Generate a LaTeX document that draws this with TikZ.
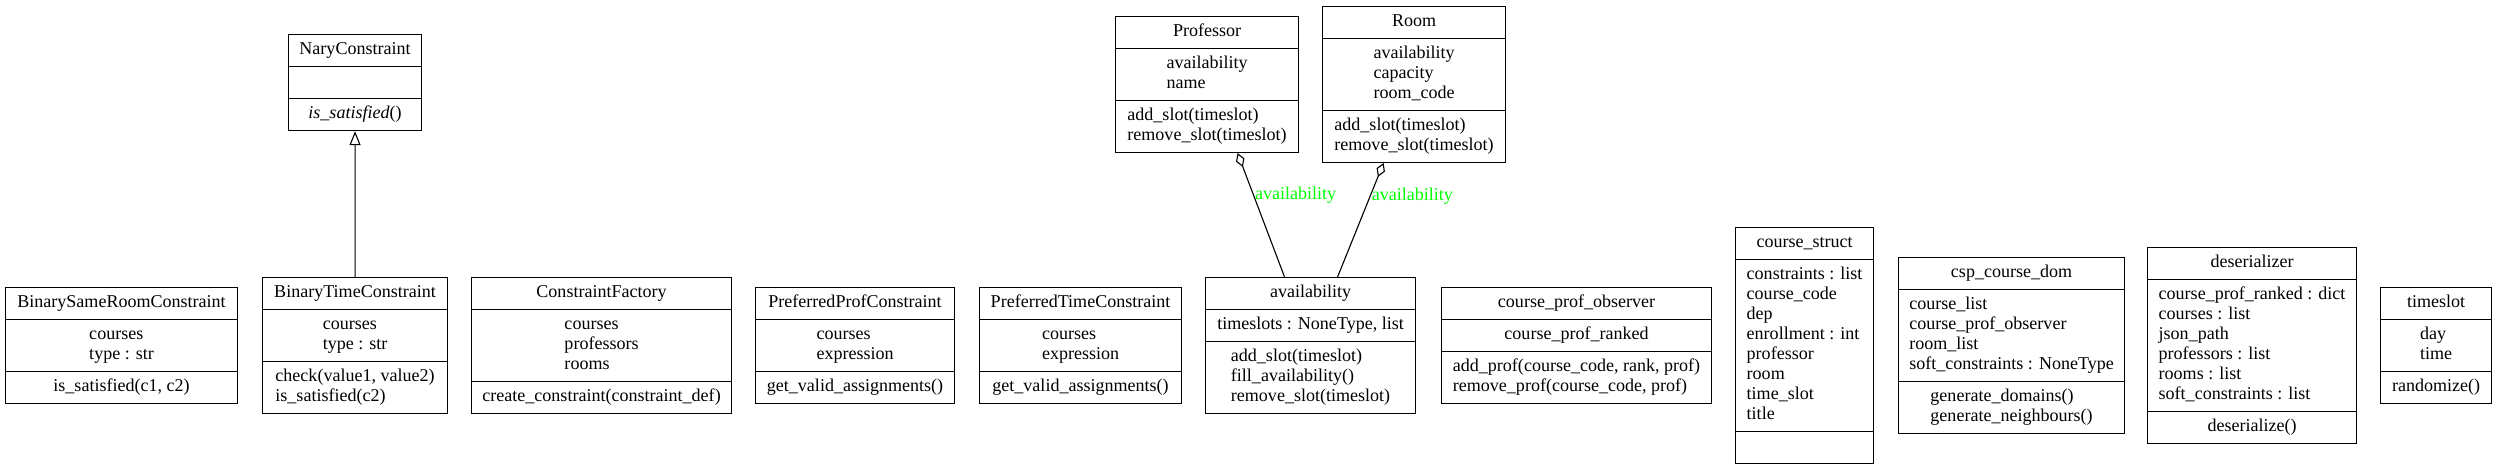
\documentclass[tikz,border=0pt]{standalone}
\usepackage{fontspec}
\setmainfont{Liberation Serif}
\usetikzlibrary{shapes.multipart,arrows.meta}
\definecolor{lblgreen}{RGB}{0,255,0}
\newcommand\umllines[1]{\begin{tabular}{@{}l@{}}\relax#1\end{tabular}}
\newcommand\umlcls[3]{\umllines{#1}\nodepart{second}\umllines{#2}\nodepart{third}\umllines{#3}}
\begin{document}
\begin{tikzpicture}[x=1bp, y=-1bp, font=\fontsize{18.1}{20}\selectfont,
umlclass/.style={draw, line width=1.1bp, rectangle split, rectangle split parts=3, inner xsep=0bp, inner ysep=5.5bp, anchor=north west},
inherit/.style={line width=1.1bp, -{Triangle[open, length=14bp, width=11bp]}},
aggr/.style={line width=1.1bp, -{Diamond[open, length=15bp, width=9bp]}},
rolelbl/.style={text=lblgreen, inner sep=1bp, anchor=west}]
\useasboundingbox (0,0) rectangle (2497,465);
\node[umlclass, minimum width=133bp] (nary) at (288,34) {\umlcls{NaryConstraint}{}{\textit{is\_satisfied}()}};
\node[umlclass, minimum width=232bp] (bsrc) at (5,287) {\umlcls{BinarySameRoomConstraint}{courses\\type : str}{is\_satisfied(c1, c2)}};
\node[umlclass, minimum width=185bp] (btc) at (262,277) {\umlcls{BinaryTimeConstraint}{courses\\type : str}{check(value1, value2)\\is\_satisfied(c2)}};
\node[umlclass, minimum width=260bp] (cfac) at (471,277) {\umlcls{ConstraintFactory}{courses\\professors\\rooms}{create\_constraint(constraint\_def)}};
\node[umlclass, minimum width=199bp] (pprof) at (755,287) {\umlcls{PreferredProfConstraint}{courses\\expression}{get\_valid\_assignments()}};
\node[umlclass, minimum width=202bp] (ptime) at (979,287) {\umlcls{PreferredTimeConstraint}{courses\\expression}{get\_valid\_assignments()}};
\node[umlclass, minimum width=210bp] (avail) at (1205,277) {\umlcls{availability}{timeslots : NoneType, list}{add\_slot(timeslot)\\fill\_availability()\\remove\_slot(timeslot)}};
\node[umlclass, minimum width=183bp] (prof) at (1115,16) {\umlcls{Professor}{availability\\name}{add\_slot(timeslot)\\remove\_slot(timeslot)}};
\node[umlclass, minimum width=183bp] (room) at (1322,6) {\umlcls{Room}{availability\\capacity\\room\_code}{add\_slot(timeslot)\\remove\_slot(timeslot)}};
\node[umlclass, minimum width=270bp] (cpobs) at (1441,287) {\umlcls{course\_prof\_observer}{course\_prof\_ranked}{add\_prof(course\_code, rank, prof)\\remove\_prof(course\_code, prof)}};
\node[umlclass, minimum width=138bp] (cstruct) at (1735,227) {\umlcls{course\_struct}{constraints : list\\course\_code\\dep\\enrollment : int\\professor\\room\\time\_slot\\title}{}};
\node[umlclass, minimum width=226bp] (cspdom) at (1898,257) {\umlcls{csp\_course\_dom}{course\_list\\course\_prof\_observer\\room\_list\\soft\_constraints : NoneType}{generate\_domains()\\generate\_neighbours()}};
\node[umlclass, minimum width=209bp] (deser) at (2147,247) {\umlcls{deserializer}{course\_prof\_ranked : dict\\courses : list\\json\_path\\professors : list\\rooms : list\\soft\_constraints : list}{deserialize()}};
\node[umlclass, minimum width=111bp] (tslot) at (2380,287) {\umlcls{timeslot}{day\\time}{randomize()}};
\draw[inherit] (btc.north) -- (nary.south);
\draw[aggr] ([xshift=-26bp]avail.north) -- ([xshift=30.5bp]prof.south) node[rolelbl, pos=.66] {availability};
\draw[aggr] ([xshift=27bp]avail.north) -- ([xshift=-30.5bp]room.south) node[rolelbl, pos=.71] {availability};
\end{tikzpicture}
\end{document}
